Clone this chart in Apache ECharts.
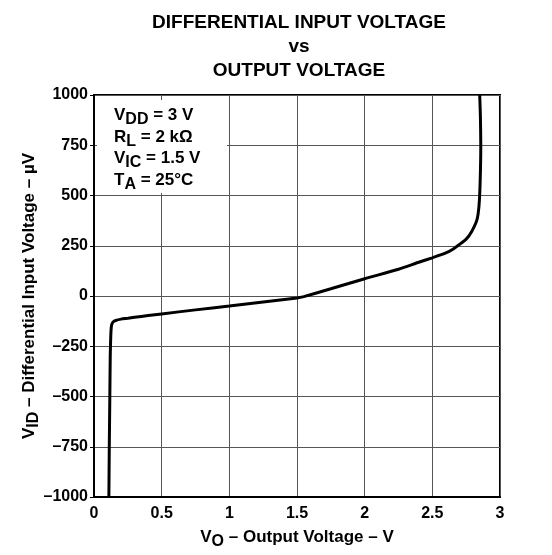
<!DOCTYPE html>
<html>
<head>
<meta charset="utf-8">
<script src="https://cdn.jsdelivr.net/npm/echarts@6/dist/echarts.min.js"></script>
<style>
html,body{margin:0;padding:0;background:#fff;}
#chart{width:552px;height:555px;}
</style>
</head>
<body>
<div id="chart"></div>
<script>
// Output voltage V_O (V)
var outputVoltage = [0.110,0.113,0.117,0.120,0.123,0.126,0.130,0.140,0.160,0.200,0.250,0.300,0.400,0.500,0.750,1.000,1.250,1.500,1.550,1.750,2.000,2.250,2.400,2.500,2.600,2.655,2.700,2.750,2.790,2.830,2.845,2.853,2.858,2.855,2.850];
// Differential input voltage V_ID (µV)
var inputVoltage = [-1000,-750,-500,-300,-220,-170,-145,-130,-122,-115,-111,-106,-97,-89,-69,-50,-30,-10,-3,36,86,133,168,190,214,234,256,283,320,380,450,560,750,900,1000];
var xTicks = [0, 0.5, 1, 1.5, 2, 2.5, 3];
var yTicks = [-1000, -750, -500, -250, 0, 250, 500, 750, 1000];
var conditions = [
  ['V', 'DD', ' = 3 V'],
  ['R', 'L', ' = 2 kΩ'],
  ['V', 'IC', ' = 1.5 V'],
  ['T', 'A', ' = 25°C']
];

var FONT = '"Liberation Sans", Arial, Helvetica, sans-serif';
var chart = echarts.init(document.getElementById('chart'));
var pts = outputVoltage.map(function (x, i) { return [x, inputVoltage[i]]; });

function rich(size) {
  return {
    m: { fontFamily: FONT, fontWeight: 'bold', fontSize: size, color: '#000', lineHeight: 19, verticalAlign: 'top' },
    s: { fontFamily: FONT, fontWeight: 'bold', fontSize: size - 1, color: '#000', lineHeight: 19, verticalAlign: 'top', padding: [5, 0, 0, 0] }
  };
}

var graphics = [{
  type: 'rect', z: 50,
  shape: { x: 97, y: 100, width: 130, height: 93 },
  style: { fill: '#fff' }
}];
conditions.forEach(function (c, i) {
  graphics.push({
    type: 'text', z: 60,
    x: 114, y: 107 + i * 21.5,
    style: {
      text: '{m|' + c[0] + '}{s|' + c[1] + '}{m|' + c[2] + '}',
      rich: rich(17)
    }
  });
});

chart.setOption({
  animation: false,
  backgroundColor: '#fff',
  title: {
    text: 'DIFFERENTIAL INPUT VOLTAGE\nvs\nOUTPUT VOLTAGE',
    left: 294, top: 6, textAlign: 'center',
    textStyle: { fontFamily: FONT, fontWeight: 'bold', fontSize: 19, lineHeight: 24, color: '#000' }
  },
  grid: {
    left: 94, right: 52, top: 95, bottom: 57,
    show: true, borderColor: '#000', borderWidth: 2, backgroundColor: 'transparent'
  },
  xAxis: {
    type: 'value', min: xTicks[0], max: xTicks[xTicks.length - 1], interval: 0.5,
    name: '{m|V}{s|O}{m| – Output Voltage – V}',
    nameLocation: 'middle', nameGap: 32, nameMoveOverlap: false,
    nameTextStyle: { rich: rich(17) },
    axisLine: { onZero: false, lineStyle: { color: '#000', width: 2 } },
    axisTick: { show: false },
    axisLabel: { fontFamily: FONT, fontWeight: 'bold', fontSize: 16, color: '#000', margin: 9 },
    splitLine: { lineStyle: { color: '#555', width: 1 } }
  },
  yAxis: {
    type: 'value', min: yTicks[0], max: yTicks[yTicks.length - 1], interval: 250,
    name: '{m|V}{s|ID}{m| – Differential Input Voltage – µV}',
    nameLocation: 'middle', nameGap: 54, nameRotate: 90, nameMoveOverlap: false,
    nameTextStyle: { rich: rich(17) },
    axisLine: { onZero: false, lineStyle: { color: '#000', width: 2 } },
    axisTick: { show: true, length: 4, lineStyle: { color: '#000' } },
    axisLabel: {
      fontFamily: FONT, fontWeight: 'bold', fontSize: 16, color: '#000', margin: 6,
      formatter: function (v) { return v < 0 ? '\u2013' + Math.abs(v) : String(v); }
    },
    splitLine: { lineStyle: { color: '#555', width: 1 } }
  },
  series: [{
    type: 'line', data: pts, showSymbol: false, smooth: 0.2,
    lineStyle: { color: '#000', width: 3 }, z: 10
  }],
  graphic: graphics
});
</script>
</body>
</html>
